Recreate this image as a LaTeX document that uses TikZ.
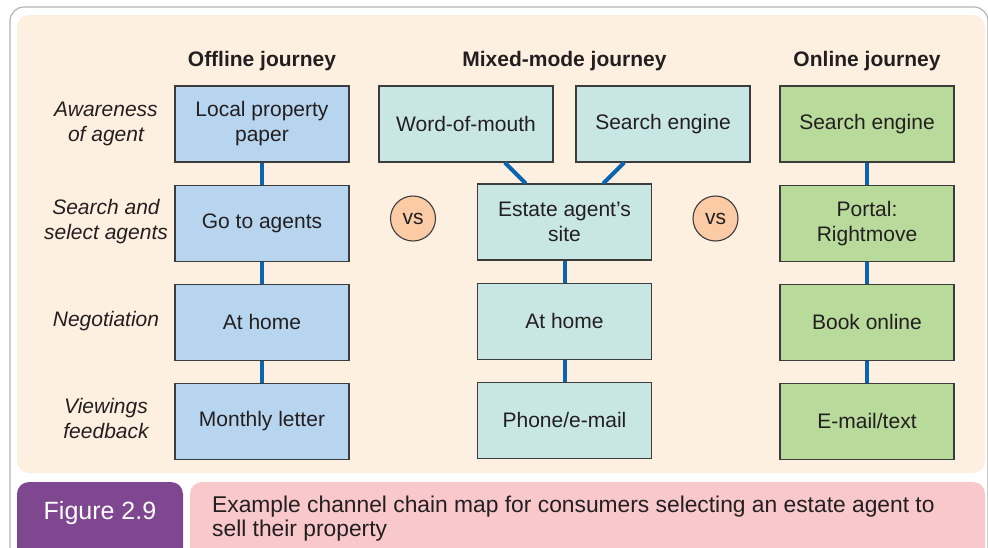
\documentclass[tikz,border=0pt]{standalone}
\usepackage{fontspec}
\setmainfont{Liberation Sans}
\usetikzlibrary{positioning}

\definecolor{framegray}{HTML}{B4B4B4}
\definecolor{panelcream}{HTML}{FEF0E1}
\definecolor{boxline}{HTML}{3C3C3C}
\definecolor{inkdark}{HTML}{231F20}
\definecolor{offblue}{HTML}{B8D5F0}
\definecolor{mixteal}{HTML}{C8E7E4}
\definecolor{ongreen}{HTML}{B8DA9A}
\definecolor{linkblue}{HTML}{0B64B0}
\definecolor{vspeach}{HTML}{FBCBA6}
\definecolor{figpurple}{HTML}{7E4790}
\definecolor{capink}{HTML}{F8C8CB}

\begin{document}
\begin{tikzpicture}[x=1pt, y=-1pt,
  stagebox/.style={draw=boxline, line width=1.1pt, minimum width=174pt,
    minimum height=76pt, inner sep=2pt, align=center, text=inkdark,
    font=\fontsize{21}{25}\selectfont},
  offbox/.style={stagebox, fill=offblue},
  mixbox/.style={stagebox, fill=mixteal},
  onbox/.style={stagebox, fill=ongreen},
  stagelabel/.style={align=center, text=inkdark,
    font=\fontsize{21}{25}\selectfont\itshape},
  colhead/.style={text=inkdark, font=\fontsize{21}{25}\selectfont\bfseries},
  vsmark/.style={circle, draw=boxline, line width=1.1pt, fill=vspeach,
    minimum size=45pt, inner sep=0pt, text=inkdark,
    font=\fontsize{21}{25}\selectfont},
  link/.style={draw=linkblue, line width=4pt}]
  \useasboundingbox (0,0) rectangle (988,547);
  \clip (0,0) rectangle (988,547);

  % frame and panels
  \draw[framegray, line width=1.2pt, rounded corners=14pt] (10,7) rectangle (988,620);
  \fill[panelcream, rounded corners=12pt] (17,15) rectangle (985,473);
  \fill[figpurple, rounded corners=12pt] (17,482) rectangle (183,620);
  \fill[capink, rounded corners=12pt] (190,482) rectangle (985,620);

  % column headings
  \node[colhead] (headoff) at (262,61) {Offline journey};
  \node[colhead] (headmix) at (564.5,61) {Mixed-mode journey};
  \node[colhead] (headon) at (867,61) {Online journey};

  % stage labels
  \node[stagelabel] (lblaware) at (106,124) {Awareness\\of agent};
  \node[stagelabel] (lblsearch) at (106,222) {Search and\\select agents};
  \node[stagelabel] (lblnego) at (106,321) {Negotiation};
  \node[stagelabel] (lblview) at (106,418) {Viewings\\feedback};

  % offline journey
  \node[offbox] (off1) at (262,124) {Local property\\paper};
  \node[offbox, below=22pt of off1] (off2) {Go to agents};
  \node[offbox, below=22pt of off2] (off3) {At home};
  \node[offbox, below=22pt of off3] (off4) {Monthly letter};

  % mixed-mode journey
  \node[mixbox] (mixwom) at (466,124) {Word-of-mouth};
  \node[mixbox] (mixse) at (663,124) {Search engine};
  \node[mixbox] (mix2) at (564.5,222) {Estate agent's\\site};
  \node[mixbox, below=22pt of mix2] (mix3) {At home};
  \node[mixbox, below=22pt of mix3] (mix4) {Phone/e-mail};

  % online journey
  \node[onbox] (on1) at (867,124) {Search engine};
  \node[onbox, below=22pt of on1] (on2) {Portal:\\Rightmove};
  \node[onbox, below=22pt of on2] (on3) {Book online};
  \node[onbox, below=22pt of on3] (on4) {E-mail/text};

  % vs markers
  \node[vsmark] (vsleft) at (413,218.5) {vs};
  \node[vsmark] (vsright) at (715.5,218.5) {vs};

  % chain links
  \draw[link] (off1) -- (off2);
  \draw[link] (off2) -- (off3);
  \draw[link] (off3) -- (off4);
  \draw[link] (mixwom) -- (mix2);
  \draw[link] (mixse) -- (mix2);
  \draw[link] (mix2) -- (mix3);
  \draw[link] (mix3) -- (mix4);
  \draw[link] (on1) -- (on2);
  \draw[link] (on2) -- (on3);
  \draw[link] (on3) -- (on4);

  % caption
  \node[text=white, font=\fontsize{25}{29}\selectfont] (figno) at (100,513) {Figure 2.9};
  \node[anchor=north west, inner sep=0pt, align=left, text=inkdark,
    font=\fontsize{22.8}{24}\selectfont] (captext) at (212,496)
    {Example channel chain map for consumers selecting an estate agent to\\sell their property};
\end{tikzpicture}
\end{document}
